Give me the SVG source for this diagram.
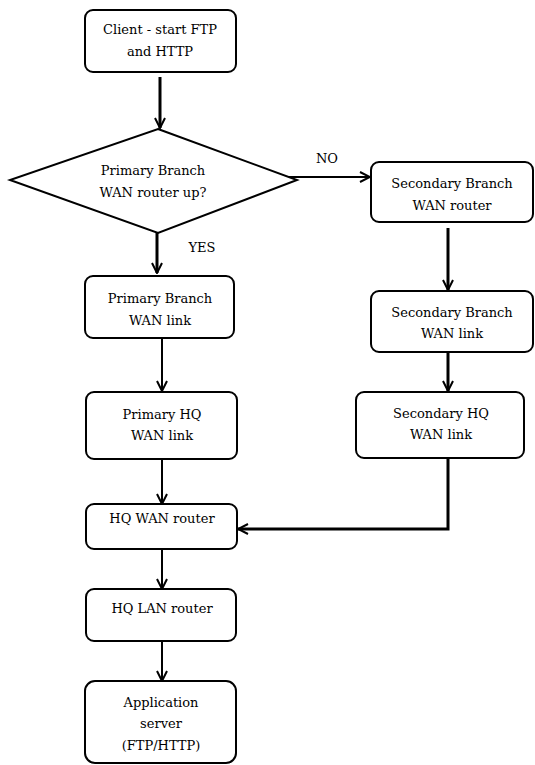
<svg xmlns="http://www.w3.org/2000/svg" width="535" height="765" viewBox="0 0 535 765">
<defs>
<style>
.box{fill:#fff;stroke:#000;stroke-width:2}
.t{font-family:'DejaVu Serif','Liberation Serif',serif;font-size:13px;fill:#000;text-anchor:middle}
.c{fill:none;stroke:#000;stroke-width:2}
.k{stroke-width:3}
</style>
<marker id="ah" markerUnits="userSpaceOnUse" viewBox="0 0 12 12" markerWidth="12" markerHeight="12" refX="11" refY="6" orient="auto">
<path d="M1,1 L11,6 L1,11" fill="none" stroke="#000" stroke-width="2"/>
</marker>
</defs>
<rect width="535" height="765" fill="#fff"/>
<g id="connectors">
<path class="c k" d="M160,77 V128" marker-end="url(#ah)"/>
<path class="c" d="M287,177 H370" marker-end="url(#ah)"/>
<path class="c k" d="M157,232 V273" marker-end="url(#ah)"/>
<path class="c k" d="M448,228 V290" marker-end="url(#ah)"/>
<path class="c k" d="M448,352 V391" marker-end="url(#ah)"/>
<path class="c k" d="M448,458 V529 H238" marker-end="url(#ah)"/>
<path class="c" d="M162,338 V391" marker-end="url(#ah)"/>
<path class="c" d="M162,459 V504" marker-end="url(#ah)"/>
<path class="c" d="M162,549 V589" marker-end="url(#ah)"/>
<path class="c" d="M162,641 V681" marker-end="url(#ah)"/>
<text class="t" x="327" y="163">NO</text>
<text class="t" x="202" y="252">YES</text>
</g>
<g id="client">
<rect class="box" x="85" y="10" width="151" height="62" rx="8"/>
<text class="t" x="160" y="34">Client - start FTP</text>
<text class="t" x="160" y="56">and HTTP</text>
</g>
<g id="decision">
<polygon class="box" points="158,129 297,180 158,233 10,180"/>
<text class="t" x="153" y="175">Primary Branch</text>
<text class="t" x="153" y="197">WAN router up?</text>
</g>
<g id="sec-branch-router">
<rect class="box" x="371" y="162" width="162" height="60" rx="8"/>
<text class="t" x="452" y="188">Secondary Branch</text>
<text class="t" x="452" y="210">WAN router</text>
</g>
<g id="sec-branch-link">
<rect class="box" x="371" y="291" width="162" height="61" rx="8"/>
<text class="t" x="452" y="317">Secondary Branch</text>
<text class="t" x="452" y="338">WAN link</text>
</g>
<g id="sec-hq-link">
<rect class="box" x="356" y="392" width="168" height="66" rx="8"/>
<text class="t" x="441" y="418">Secondary HQ</text>
<text class="t" x="441" y="439">WAN link</text>
</g>
<g id="pri-branch-link">
<rect class="box" x="85" y="276" width="149" height="62" rx="8"/>
<text class="t" x="160" y="303">Primary Branch</text>
<text class="t" x="160" y="325">WAN link</text>
</g>
<g id="pri-hq-link">
<rect class="box" x="86" y="392" width="151" height="67" rx="8"/>
<text class="t" x="162" y="419">Primary HQ</text>
<text class="t" x="162" y="440">WAN link</text>
</g>
<g id="hq-wan-router">
<rect class="box" x="86" y="504" width="151" height="45" rx="8"/>
<text class="t" x="162" y="523">HQ WAN router</text>
</g>
<g id="hq-lan-router">
<rect class="box" x="86" y="589" width="150" height="52" rx="8"/>
<text class="t" x="162" y="613">HQ LAN router</text>
</g>
<g id="app-server">
<rect class="box" x="85" y="681" width="151" height="82" rx="10"/>
<text class="t" x="161" y="707">Application</text>
<text class="t" x="161" y="728">server</text>
<text class="t" x="161" y="750">(FTP/HTTP)</text>
</g>
</svg>
